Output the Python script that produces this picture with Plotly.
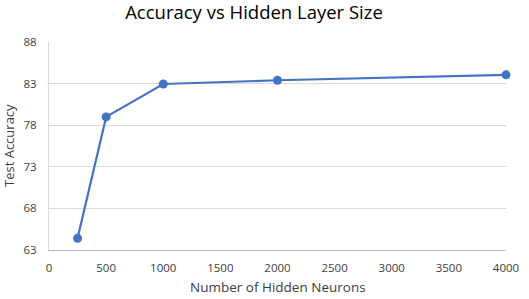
import plotly.graph_objects as go

neurons = [250, 500, 1000, 2000, 4000]
accuracy = [64.4, 79.0, 82.95, 83.4, 84.05]
x_ticks = [0, 500, 1000, 1500, 2000, 2500, 3000, 3500, 4000]
y_ticks = [63, 68, 73, 78, 83, 88]

W, H = 529, 299
L, R, T, B = 49, 23, 42, 49
font_family = "Open Sans, Liberation Sans, Arial"
axis_col = "#404040"

fig = go.Figure(go.Scatter(
    x=neurons, y=accuracy, mode="lines+markers",
    line=dict(color="#4472C4", width=2.2),
    marker=dict(color="#4472C4", size=9),
    cliponaxis=False,
))
pw, ph = W - L - R, H - T - B
fig.update_layout(
    width=W, height=H,
    margin=dict(l=L, r=R, t=T, b=B),
    paper_bgcolor="white", plot_bgcolor="white",
    showlegend=False,
    title=dict(text="Accuracy vs Hidden Layer Size", x=254 / W, xanchor="center",
               y=1 - 13 / H, yanchor="middle", yref="container",
               font=dict(family=font_family, size=18.5, color="#000000")),
    font=dict(family=font_family, color=axis_col),
    annotations=[
        dict(text="Number of Hidden Neurons", xref="paper", yref="paper",
             x=0.5, y=-(287 - (T + ph)) / ph, xanchor="center", yanchor="middle",
             showarrow=False, font=dict(size=13.5, color=axis_col)),
        dict(text="Test Accuracy", xref="paper", yref="paper", textangle=-90,
             x=(9 - L) / pw, y=0.5, xanchor="center", yanchor="middle",
             showarrow=False, font=dict(size=13, color=axis_col)),
    ],
)
fig.update_xaxes(
    range=[0, 4000], tickvals=x_ticks, ticktext=[str(v) for v in x_ticks],
    showgrid=False, zeroline=False, showline=True, linecolor="#bfbfbf", linewidth=1,
    ticks="", tickfont=dict(size=11.5, color=axis_col), automargin=False,
    ticklabelstandoff=7,
)
fig.update_yaxes(
    range=[63, 88], tickvals=y_ticks, ticktext=[str(v) for v in y_ticks],
    showgrid=True, gridcolor="#d9d9d9", gridwidth=1, zeroline=False,
    showline=True, linecolor="#d9d9d9", linewidth=1,
    ticks="", tickfont=dict(size=11.5, color=axis_col), automargin=False,
    ticklabelstandoff=9,
)
# remove the default 8px page margin so the figure sits at the window origin
fig.write_html("out.html", config={"displayModeBar": False},
               post_script="document.body.style.margin='0';")
